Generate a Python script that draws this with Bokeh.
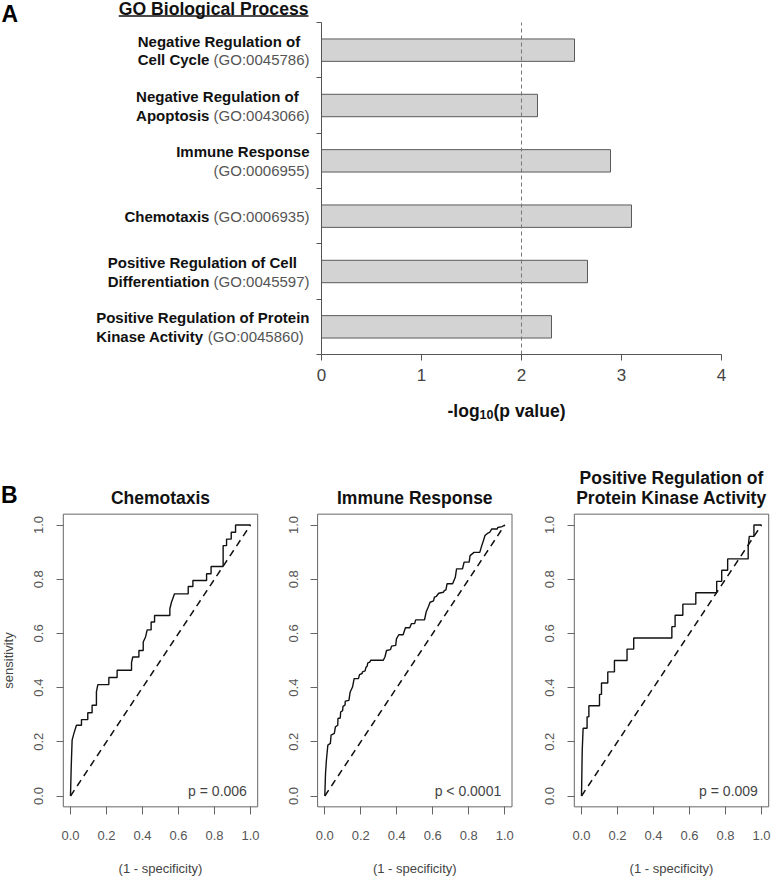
import math
from bokeh.plotting import figure
from bokeh.models import Label, Arrow, FixedTicker, PrintfTickFormatter, BoxAnnotation
from bokeh.layouts import column, row
from bokeh.embed import file_html
from bokeh.resources import INLINE

FONT = "Liberation Sans"

# ---------------- data ----------------
# Panel A: GO Biological Process enrichment (top to bottom)
go_line1 = ["Negative Regulation of", "Negative Regulation of", "Immune Response", "",
            "Positive Regulation of Cell", "Positive Regulation of Protein"]
go_line2 = ["Cell Cycle", "Apoptosis", "", "Chemotaxis", "Differentiation", "Kinase Activity"]
go_ids = ["(GO:0045786)", "(GO:0043066)", "(GO:0006955)", "(GO:0006935)", "(GO:0045597)", "(GO:0045860)"]
neg_log10_p = [2.53, 2.16, 2.89, 3.10, 2.66, 2.30]
a_x_ticks = [0, 1, 2, 3, 4]
a_threshold = 2

# Panel B: ROC curves
roc_titles = [["Chemotaxis"], ["Immune Response"], ["Positive Regulation of", "Protein Kinase Activity"]]
roc_pvalues = ["p = 0.006", "p < 0.0001", "p = 0.009"]
roc_ticks = [0.0, 0.2, 0.4, 0.6, 0.8, 1.0]
chance_line = [0.0, 1.0]

chemo_fpr = [0, 0.004, 0.009, 0.019, 0.033, 0.061, 0.061, 0.096, 0.096, 0.12, 0.12, 0.144, 0.144, 0.152,
             0.213, 0.213, 0.259, 0.259, 0.339, 0.339, 0.346, 0.38, 0.38, 0.404, 0.404, 0.417, 0.426,
             0.448, 0.448, 0.467, 0.467, 0.552, 0.552, 0.561, 0.578, 0.654, 0.654, 0.68, 0.68, 0.756,
             0.756, 0.781, 0.781, 0.848, 0.848, 0.867, 0.867, 0.893, 0.893, 0.917, 0.917, 1.0]
chemo_tpr = [0, 0.108, 0.206, 0.231, 0.261, 0.261, 0.282, 0.282, 0.307, 0.307, 0.335, 0.335, 0.384, 0.411,
             0.411, 0.437, 0.437, 0.464, 0.464, 0.492, 0.513, 0.513, 0.537, 0.537, 0.568, 0.587, 0.613,
             0.613, 0.642, 0.642, 0.666, 0.666, 0.691, 0.715, 0.746, 0.746, 0.773, 0.773, 0.795, 0.795,
             0.82, 0.82, 0.847, 0.847, 0.924, 0.924, 0.948, 0.948, 0.973, 0.973, 1.0, 1.0]

immune_fpr = [0, 0.004, 0.009, 0.017, 0.031, 0.035, 0.053, 0.059, 0.072, 0.073, 0.086, 0.088, 0.099, 0.101,
              0.112, 0.114, 0.134, 0.141, 0.154, 0.163, 0.187, 0.193, 0.207, 0.209, 0.224, 0.228, 0.235,
              0.239, 0.25, 0.255, 0.325, 0.334, 0.343, 0.365, 0.371, 0.394, 0.398, 0.411, 0.435, 0.448,
              0.472, 0.481, 0.499, 0.505, 0.554, 0.563, 0.576, 0.585, 0.604, 0.609, 0.62, 0.633, 0.659,
              0.664, 0.673, 0.679, 0.71, 0.725, 0.732, 0.765, 0.774, 0.802, 0.807, 0.829, 0.861, 0.872,
              0.881, 0.89, 0.903, 0.916, 0.927, 0.958, 0.961, 0.985, 1.0]
immune_tpr = [0, 0.083, 0.133, 0.188, 0.194, 0.225, 0.231, 0.255, 0.261, 0.286, 0.288, 0.31, 0.315, 0.331,
              0.335, 0.35, 0.353, 0.384, 0.402, 0.433, 0.433, 0.448, 0.452, 0.458, 0.462, 0.474, 0.479,
              0.491, 0.494, 0.501, 0.501, 0.513, 0.537, 0.54, 0.553, 0.556, 0.58, 0.595, 0.595, 0.621,
              0.621, 0.636, 0.636, 0.65, 0.65, 0.679, 0.699, 0.715, 0.72, 0.734, 0.737, 0.748, 0.752,
              0.758, 0.761, 0.783, 0.783, 0.807, 0.838, 0.838, 0.863, 0.863, 0.887, 0.899, 0.899, 0.924,
              0.942, 0.961, 0.969, 0.973, 0.985, 0.985, 0.991, 0.994, 1.0]

kinase_fpr = [0, 0.004, 0.009, 0.031, 0.031, 0.041, 0.041, 0.1, 0.1, 0.111, 0.111, 0.146, 0.146, 0.183,
              0.183, 0.253, 0.253, 0.29, 0.29, 0.502, 0.502, 0.52, 0.52, 0.563, 0.563, 0.635, 0.635,
              0.751, 0.751, 0.779, 0.779, 0.812, 0.812, 0.926, 0.926, 0.932, 0.958, 0.958, 1.0]
kinase_tpr = [0, 0.167, 0.25, 0.25, 0.292, 0.292, 0.333, 0.333, 0.375, 0.375, 0.417, 0.417, 0.458, 0.458,
              0.5, 0.5, 0.542, 0.542, 0.583, 0.583, 0.625, 0.625, 0.667, 0.667, 0.708, 0.708, 0.75,
              0.75, 0.792, 0.792, 0.833, 0.833, 0.875, 0.875, 0.917, 0.958, 0.958, 1.0, 1.0]

roc_fpr = [chemo_fpr, immune_fpr, kinase_fpr]
roc_tpr = [chemo_tpr, immune_tpr, kinase_tpr]

# ---------------- text metrics (Arial / Liberation Sans, per 1000 em) ----------------
BOLD_W = {' ': 278, '(': 333, ')': 333, '-': 333, ':': 333, 'A': 722, 'B': 722, 'C': 722, 'D': 722,
          'G': 778, 'I': 278, 'K': 722, 'N': 722, 'O': 778, 'P': 667, 'R': 722,
          'a': 556, 'b': 611, 'c': 556, 'd': 611, 'e': 556, 'f': 333, 'g': 611, 'h': 611, 'i': 278,
          'k': 556, 'l': 278, 'm': 889, 'n': 611, 'o': 611, 'p': 611, 'r': 389, 's': 556, 't': 333,
          'u': 611, 'v': 556, 'x': 556, 'y': 556}
REG_W = {' ': 278, '(': 333, ')': 333, ':': 278, 'G': 778, 'O': 778}


def tw(s, size, table):
    return sum(table.get(c, 556) for c in s) * size / 1000.0


def lab(p, x, y, text, size, color="#111111", bold=False, align="left", baseline="middle", angle=0.0):
    p.add_layout(Label(x=x, y=y, text=text, text_font=FONT, text_font_size=f"{size}px",
                       text_font_style="bold" if bold else "normal", text_color=color,
                       text_align=align, text_baseline=baseline, angle=angle))


# ---------------- Panel A ----------------
PAGE_W = 771
A_H = 450
A_X0, A_PXX = 321.0, 100.0          # page x of value 0, px per unit
A_YB, A_PXY = 354.0, 332.0 / 6.0    # page y of the value axis, px per category


def ax(sx):
    return (sx - A_X0) / A_PXX


def ay(sy):
    return (A_YB - sy) / A_PXY


n = len(neg_log10_p)
pA = figure(frame_width=PAGE_W, frame_height=A_H, min_border=0,
            x_range=(ax(0), ax(PAGE_W)), y_range=(ay(A_H), ay(0)),
            output_backend="svg", toolbar_location=None)
pA.outline_line_color = None
pA.xgrid.visible = False
pA.ygrid.visible = False

ys = [n - 0.5 - i for i in range(n)]
pA.hbar(y=ys, left=0, right=neg_log10_p, height=0.405, fill_color="#d3d3d3",
        line_color="#5a5a5a", line_width=1)
pA.segment(x0=[a_threshold], y0=[0], x1=[a_threshold], y1=[n], line_color="#777777",
           line_dash="4 3", line_width=1)

pA.xaxis.fixed_location = 0
pA.xaxis.bounds = (a_x_ticks[0], a_x_ticks[-1])
pA.xaxis.ticker = FixedTicker(ticks=a_x_ticks)
pA.xaxis.axis_line_color = "#555555"
pA.xaxis.major_tick_line_color = "#555555"
pA.xaxis.minor_tick_line_color = None
pA.xaxis.major_tick_out = 6
pA.xaxis.major_tick_in = 0
pA.xaxis.major_label_standoff = 8
pA.xaxis.major_label_text_font = FONT
pA.xaxis.major_label_text_font_size = "17px"
pA.xaxis.major_label_text_color = "#444444"

pA.yaxis.fixed_location = 0
pA.yaxis.bounds = (0, n)
pA.yaxis.ticker = FixedTicker(ticks=list(range(n + 1)))
pA.yaxis.axis_line_color = "#555555"
pA.yaxis.major_tick_line_color = "#555555"
pA.yaxis.minor_tick_line_color = None
pA.yaxis.major_tick_out = 5
pA.yaxis.major_tick_in = 0
pA.yaxis.major_label_overrides = {i: "" for i in range(n + 1)}

LBL = 15
RIGHT = 309.0
align_mode = ["left", "left", "right", "left", "left", "left"]
for i in range(n):
    cy = 22 + A_PXY * (i + 0.5)
    l1, b2, g2 = go_line1[i], go_line2[i], go_ids[i]
    w1 = tw(l1, LBL, BOLD_W)
    wb = tw(b2 + " ", LBL, BOLD_W) if b2 else 0.0
    wg = tw(g2, LBL, REG_W)
    w2 = wb + wg
    if l1:
        y1, y2 = cy - 9.0, cy + 9.5
    else:
        y1, y2 = cy, cy
    if align_mode[i] == "right":
        x1, x2 = RIGHT - w1, RIGHT - w2
    else:
        left = RIGHT - max(w1, w2)
        x1, x2 = left, left
    if l1:
        lab(pA, ax(x1), ay(y1), l1, LBL, bold=True)
    if b2:
        lab(pA, ax(x2), ay(y2), b2, LBL, bold=True)
    lab(pA, ax(x2 + wb), ay(y2), g2, LBL, color="#555555")

# title with underline
T_SIZE = 17.6
title_txt = "GO Biological Process"
tw_title = tw(title_txt, T_SIZE, BOLD_W)
lab(pA, ax(308), ay(8), title_txt, T_SIZE, bold=True, align="right")
pA.add_layout(Arrow(end=None, x_start=ax(308 - tw_title), y_start=ay(15.5), x_end=ax(308),
                    y_end=ay(15.5), line_color="#111111", line_width=1.5))
lab(pA, ax(1), ay(13), "A", 23, color="#000000", bold=True)

# x axis label: -log10(p value)
XL, SUB = 17.5, 12.5
w_a = tw("-log", XL, BOLD_W)
w_b = tw("10", SUB, BOLD_W)
w_c = tw("(p value)", XL, BOLD_W)
xl_left = 506 - (w_a + w_b + w_c) / 2
lab(pA, ax(xl_left), ay(410), "-log", XL, bold=True, baseline="alphabetic")
lab(pA, ax(xl_left + w_a), ay(414), "10", SUB, bold=True, baseline="alphabetic")
lab(pA, ax(xl_left + w_a + w_b), ay(410), "(p value)", XL, bold=True, baseline="alphabetic")

# ---------------- Panel B ----------------
B_TOP = A_H
B_H = 877 - A_H
B_Y0, B_PXY = 795.5, 271.0     # page y of sensitivity 0, px per unit
B_PXX = 180.0
# (page x of figure left, page x of figure right, page x of value 0)
b_cols = [(0, 270, 70.0), (270, 526, 324.3), (526, 771, 581.0)]


def by(sy):
    return (B_Y0 - sy) / B_PXY


roc_figs = []
for k in range(3):
    fx0, fx1, x0 = b_cols[k]

    def bx(sx, x0=x0):
        return (sx - x0) / B_PXX

    p = figure(frame_width=fx1 - fx0, frame_height=B_H, min_border=0,
               x_range=(bx(fx0), bx(fx1)), y_range=(by(B_TOP + B_H), by(B_TOP)),
               output_backend="svg", toolbar_location=None)
    p.outline_line_color = None
    p.xgrid.visible = False
    p.ygrid.visible = False
    lo, hi = -0.04, 1.04
    p.add_layout(BoxAnnotation(left=lo, right=hi, bottom=lo, top=hi, fill_alpha=0, fill_color=None,
                               line_color="#666666", line_alpha=1.0, line_width=1))
    for axis in (p.xaxis, p.yaxis):
        axis.fixed_location = lo
        axis.bounds = (lo, hi)
        axis.ticker = FixedTicker(ticks=roc_ticks)
        axis.formatter = PrintfTickFormatter(format="%.1f")
        axis.axis_line_color = None
        axis.major_tick_line_color = "#666666"
        axis.minor_tick_line_color = None
        axis.major_tick_in = 0
        axis.major_label_text_font = FONT
        axis.major_label_text_font_size = "13px"
        axis.major_label_text_color = "#555555"
    p.xaxis.major_tick_out = 8
    p.xaxis.major_label_standoff = 16
    p.yaxis.major_tick_out = 7
    p.yaxis.major_label_standoff = 13
    p.yaxis.major_label_orientation = "vertical"

    p.line(chance_line, chance_line, line_color="#111111", line_width=1.5, line_dash="7 5")
    p.line(roc_fpr[k], roc_tpr[k], line_color="#111111", line_width=1.4)

    title_lines = roc_titles[k]
    title_y = [497] if len(title_lines) == 1 else [477, 497]
    for t, sy in zip(title_lines, title_y):
        lab(p, 0.5, by(sy), t, 17.5, bold=True, align="center")
    lab(p, 0.98, 0.02, roc_pvalues[k], 14, color="#444444", align="right")
    lab(p, 0.5, by(868), "(1 - specificity)", 13, color="#444444", align="center")
    if k == 0:
        lab(p, bx(8), 0.5, "sensitivity", 13, color="#444444", align="center", angle=math.pi / 2)
        lab(p, bx(0.5), by(494), "B", 23, color="#000000", bold=True)
    roc_figs.append(p)

layout = column(pA, row(*roc_figs))
html = file_html(layout, INLINE, title="GO enrichment and ROC curves")
open("out.html", "w").write(html)
